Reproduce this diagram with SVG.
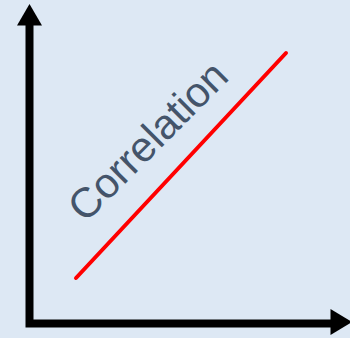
<svg xmlns="http://www.w3.org/2000/svg" width="350" height="338" viewBox="0 0 350 338">
<style>
.axis{stroke:#000;stroke-width:8;fill:none}
.head{fill:#000}
.trend{stroke:#ff0000;stroke-width:4;stroke-linecap:round}
.lbl{font-family:"Liberation Sans",Arial,sans-serif;font-size:42px;fill:#44546a}
</style>
<rect width="350" height="338" fill="#dde8f4"/>
<g id="connectors">
<polyline class="axis" points="29.5,24 29.5,323.5 332,323.5"/>
<polygon class="head" points="29.5,4 17,25.5 42,25.5"/>
<polygon class="head" points="352,322 330.5,309 330.5,335"/>
</g>
<g id="trend">
<line class="trend" x1="76" y1="278" x2="286" y2="53"/>
</g>
<g id="label">
<text class="lbl" x="158" y="151" text-anchor="middle" transform="rotate(-45 158 151)">Correlation</text>
</g>
</svg>
